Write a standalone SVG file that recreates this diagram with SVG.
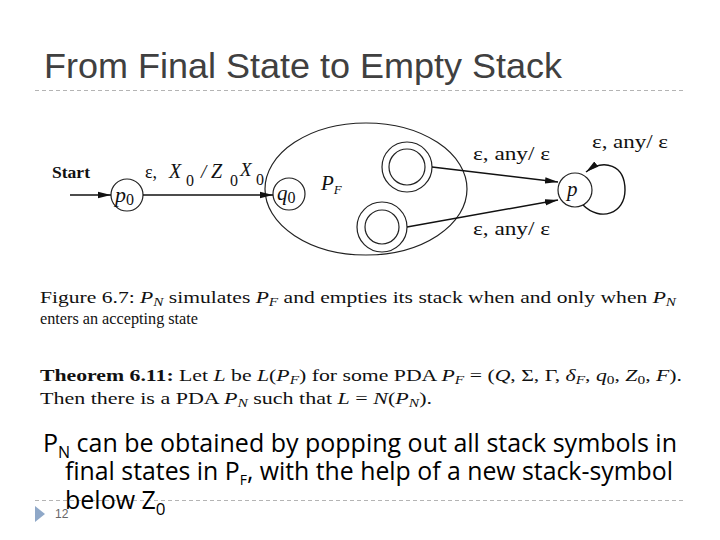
<svg xmlns="http://www.w3.org/2000/svg" width="720" height="540" viewBox="0 0 720 540">
<style>
.title{font-family:"Liberation Sans",Arial,sans-serif;font-size:35px;fill:#404040}
.dash{stroke:#b4b4b4;stroke-width:1;stroke-dasharray:4 3}
.fig{font-family:"Liberation Serif","Times New Roman",serif;fill:#111}
.st{fill:none;stroke:#222;stroke-width:1.2}
.ln{fill:none;stroke:#111;stroke-width:1.4}
.cap{font-family:"Liberation Serif","Times New Roman",serif;font-size:17px;fill:#111}
.body{font-family:"Open Sans","Noto Sans",sans-serif;font-size:25px;fill:#000}
.it{font-style:italic}
</style>
<defs>
<marker id="ah" markerUnits="userSpaceOnUse" markerWidth="14" markerHeight="8" refX="13" refY="4" orient="auto">
<path d="M0,0.8 L13,4 L0,7.2 z" fill="#111"/>
</marker>
</defs>
<rect width="720" height="540" fill="#fff"/>
<text class="title" x="44" y="78" textLength="518" lengthAdjust="spacingAndGlyphs">From Final State to Empty Stack</text>
<line class="dash" x1="35" y1="90.5" x2="685" y2="90.5"/>

<g id="start-label"><text class="fig" x="52" y="178" font-size="16" font-weight="bold" textLength="38" lengthAdjust="spacingAndGlyphs">Start</text></g>

<g id="p0"><circle class="st" cx="127" cy="195" r="16"/><text class="fig" x="115" y="202" font-size="22"><tspan class="it">p</tspan><tspan font-size="16" dy="3">0</tspan></text></g>

<g id="PF"><ellipse class="st" cx="366" cy="189" rx="101" ry="66"/><text class="fig" x="321" y="190" font-size="21"><tspan class="it">P</tspan><tspan class="it" font-size="13" dy="4">F</tspan></text></g>

<g id="q0"><circle class="st" cx="289" cy="194" r="16"/><text class="fig" x="277" y="200" font-size="21"><tspan class="it">q</tspan><tspan font-size="16" dy="3">0</tspan></text></g>

<g id="f1"><circle class="st" cx="407" cy="167" r="25"/><circle class="st" cx="407" cy="167" r="18"/></g>
<g id="f2"><circle class="st" cx="382" cy="227" r="25"/><circle class="st" cx="382" cy="227" r="17"/></g>

<g id="p"><circle class="st" cx="575" cy="190" r="17"/><text class="fig it" x="567" y="196" font-size="21">p</text></g>

<g id="connectors">
<line class="ln" x1="70" y1="195" x2="111" y2="195" marker-end="url(#ah)"/>
<line class="ln" x1="143" y1="195" x2="273" y2="195" marker-end="url(#ah)"/>
<line class="ln" x1="432" y1="167" x2="558" y2="182" marker-end="url(#ah)"/>
<line class="ln" x1="407" y1="227" x2="558" y2="200" marker-end="url(#ah)"/>
<path class="ln" d="M583,205 C600,222 625,214 625,190 C625,165 604,158 586,172" marker-end="url(#ah)"/>
</g>

<g id="edge-labels" class="fig" font-size="18">
<text x="145" y="178">ε,</text>
<text x="169" y="178" class="it" font-size="20">X</text>
<text x="186" y="186" font-size="16">0</text>
<text x="201" y="178" class="it" font-size="19">/</text>
<text x="211" y="178" class="it" font-size="20">Z</text>
<text x="230" y="186" font-size="16">0</text>
<text x="240" y="176" class="it" font-size="19">X</text>
<text x="256" y="185" font-size="16">0</text>
<text x="473" y="160" textLength="77" lengthAdjust="spacingAndGlyphs">ε,  any/ ε</text>
<text x="473" y="235" textLength="77" lengthAdjust="spacingAndGlyphs">ε,  any/ ε</text>
<text x="592" y="148" textLength="76" lengthAdjust="spacingAndGlyphs">ε,  any/ ε</text>
</g>

<text class="cap" x="40" y="303" textLength="636" lengthAdjust="spacingAndGlyphs">Figure 6.7:  <tspan class="it">P</tspan><tspan class="it" font-size="12" dy="3">N</tspan><tspan dy="-3"> simulates </tspan><tspan class="it">P</tspan><tspan class="it" font-size="12" dy="3">F</tspan><tspan dy="-3"> and empties its stack when and only when </tspan><tspan class="it">P</tspan><tspan class="it" font-size="12" dy="3">N</tspan></text>
<text class="cap" x="40" y="324" textLength="158" lengthAdjust="spacingAndGlyphs">enters an accepting state</text>

<text class="cap" x="40" y="381" textLength="642" lengthAdjust="spacingAndGlyphs"><tspan font-weight="bold">Theorem 6.11:</tspan> Let <tspan class="it">L</tspan> be <tspan class="it">L</tspan>(<tspan class="it">P</tspan><tspan class="it" font-size="12" dy="3">F</tspan><tspan dy="-3">) for some PDA </tspan><tspan class="it">P</tspan><tspan class="it" font-size="12" dy="3">F</tspan><tspan dy="-3"> = (</tspan><tspan class="it">Q</tspan>, Σ, Γ, <tspan class="it">δ</tspan><tspan class="it" font-size="12" dy="3">F</tspan><tspan dy="-3">, </tspan><tspan class="it">q</tspan><tspan font-size="12" dy="3">0</tspan><tspan dy="-3">, </tspan><tspan class="it">Z</tspan><tspan font-size="12" dy="3">0</tspan><tspan dy="-3">, </tspan><tspan class="it">F</tspan>).</text>
<text class="cap" x="40" y="404" textLength="392" lengthAdjust="spacingAndGlyphs">Then there is a PDA <tspan class="it">P</tspan><tspan class="it" font-size="12" dy="3">N</tspan><tspan dy="-3"> such that </tspan><tspan class="it">L</tspan> = <tspan class="it">N</tspan>(<tspan class="it">P</tspan><tspan class="it" font-size="12" dy="3">N</tspan><tspan dy="-3">).</tspan></text>

<text class="body" x="43" y="452" textLength="634" lengthAdjust="spacingAndGlyphs">P<tspan font-size="16" dy="6">N</tspan><tspan dy="-6"> can be obtained by popping out all stack symbols in</tspan></text>
<text class="body" x="65" y="480" textLength="608" lengthAdjust="spacingAndGlyphs">final states in P<tspan font-size="14" dy="5">F</tspan><tspan dy="-5">, with the help of a new stack-symbol</tspan></text>
<line class="dash" x1="35" y1="500.5" x2="685" y2="500.5"/>
<text class="body" x="65" y="509">below Z<tspan font-size="17" dy="6">0</tspan></text>
<path d="M35,506 L45,514 L35,522 z" fill="#8fa8c8"/>
<text x="55" y="518" font-family="'Liberation Sans',Arial,sans-serif" font-size="12" fill="#666">12</text>
</svg>
